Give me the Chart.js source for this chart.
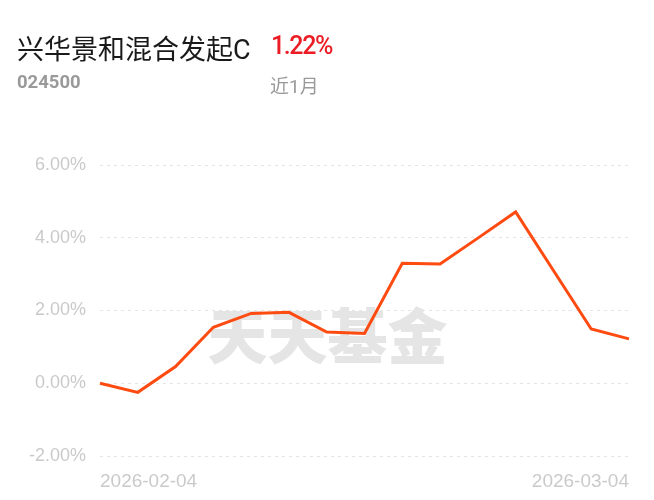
<!DOCTYPE html>
<html>
<head>
<meta charset="utf-8">
<script src="https://cdn.jsdelivr.net/npm/chart.js@4"></script>
<style>
  html, body { margin: 0; padding: 0; background: #fff; }
  #wrap { position: relative; width: 654px; height: 500px; }
  #chart { position: absolute; left: 0; top: 0; }
  .t { position: absolute; white-space: nowrap; font-family: Roboto, "Noto Sans CJK SC", sans-serif; }
  #name { left: 17px; top: 28px; font-size: 27px; color: #1a1a1a; }
  #pct { left: 271px; top: 31px; font-size: 25px; color: #ec1c24; font-weight: 500; letter-spacing: -1.4px; }
  #code { left: 17px; top: 71px; font-size: 18.5px; color: #9a9a9a; font-weight: 700; }
  #period { left: 270px; top: 71px; font-size: 19px; color: #9a9a9a; }
</style>
</head>
<body>
<div id="wrap">
  <canvas id="chart" width="654" height="500"></canvas>
  <div class="t" id="name">兴华景和混合发起C</div>
  <div class="t" id="pct">1.22%</div>
  <div class="t" id="code">024500</div>
  <div class="t" id="period">近1月</div>
</div>
<script>
// === Datos ===
const dates = [
  "2026-02-04", "2026-02-05", "2026-02-06", "2026-02-09", "2026-02-10",
  "2026-02-11", "2026-02-12", "2026-02-13", "2026-02-24", "2026-02-25",
  "2026-02-26", "2026-02-27", "2026-03-02", "2026-03-03", "2026-03-04"
];
const returns = [0.00, -0.25, 0.46, 1.54, 1.92, 1.95, 1.41, 1.37, 3.30, 3.28, 3.99, 4.71, 3.10, 1.49, 1.22];
const yTicks = [-2, 0, 2, 4, 6];

// === Marca de agua ===
const watermark = {
  id: "watermark",
  beforeDatasetsDraw(chart) {
    const { ctx, chartArea } = chart;
    ctx.save();
    ctx.font = "900 60px 'Noto Sans CJK SC'";
    ctx.fillStyle = "#e5e5e5";
    ctx.textAlign = "center";
    ctx.textBaseline = "middle";
    ctx.fillText("天天基金", chartArea.left + chartArea.width * 0.43, chartArea.top + chartArea.height * 0.59);
    ctx.restore();
  }
};

new Chart(document.getElementById("chart"), {
  type: "line",
  data: {
    labels: dates,
    datasets: [{
      data: returns,
      borderColor: "#fe4b11",
      borderWidth: 3,
      pointRadius: 0,
      tension: 0,
      fill: false
    }]
  },
  options: {
    responsive: false,
    animation: false,
    layout: { padding: { top: 165, right: 25, left: 0, bottom: 0 } },
    plugins: { legend: { display: false }, tooltip: { enabled: false } },
    scales: {
      x: {
        offset: false,
        grid: { display: false, drawTicks: false },
        border: { display: false },
        afterFit(scale) { scale.height = 44; },
        ticks: {
          autoSkip: false,
          maxRotation: 0,
          align: "inner",
          padding: 14,
          color: "#cacaca",
          font: { family: "'Liberation Sans'", size: 19 },
          callback(v, i) { return (i === 0 || i === dates.length - 1) ? dates[i] : ""; }
        }
      },
      y: {
        min: yTicks[0],
        max: yTicks[yTicks.length - 1],
        afterFit(scale) { scale.width = 100; },
        afterBuildTicks(scale) { scale.ticks = yTicks.map(v => ({ value: v })); },
        grid: { color: "#e4e4e4", lineWidth: 1, drawTicks: false },
        border: { display: false, dash: [3, 4] },
        ticks: {
          padding: 14,
          color: "#cacaca",
          font: { family: "'Liberation Sans'", size: 18 },
          callback(v) { return v.toFixed(2) + "%"; }
        }
      }
    }
  },
  plugins: [watermark]
});
</script>
</body>
</html>
